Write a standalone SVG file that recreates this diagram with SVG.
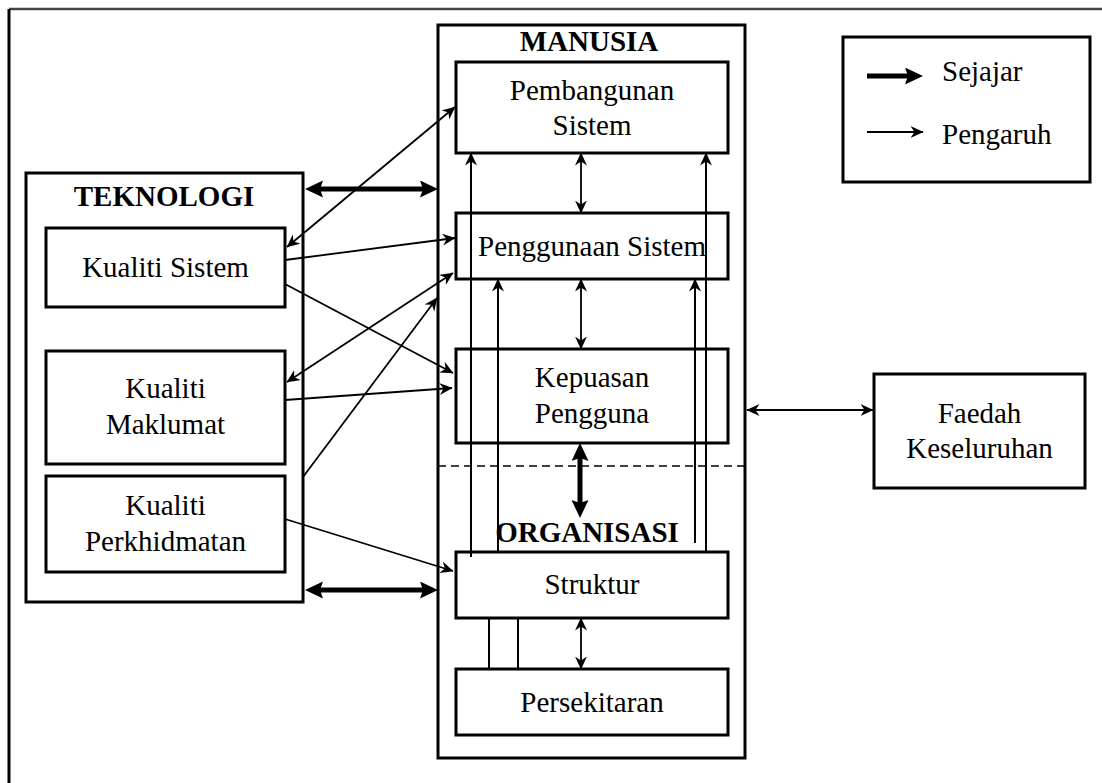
<svg xmlns="http://www.w3.org/2000/svg" width="1102" height="783" viewBox="0 0 1102 783" font-family="Liberation Serif, Times New Roman, Times, serif">
<style>
.box{fill:none;stroke:#000;stroke-width:3}
text{font-family:Liberation Serif,'Times New Roman',Times,serif}
.t{font-size:29px;text-anchor:middle;fill:#000}
.b{font-weight:bold}
.s{text-anchor:start}
.thin{stroke:#000;stroke-width:1.8;fill:none}
.thick{stroke:#000;stroke-width:5;fill:none}
.plain{stroke:#000;stroke-width:2;fill:none}
</style>
<defs>
<marker id="ah" markerUnits="userSpaceOnUse" markerWidth="15" markerHeight="13" refX="12.5" refY="6" orient="auto-start-reverse">
<path d="M0,0 L13,6 L0,12 L4,6 z" fill="#000"/>
</marker>
<marker id="AH" markerUnits="userSpaceOnUse" markerWidth="20" markerHeight="18" refX="8" refY="8.5" orient="auto-start-reverse">
<path d="M0,0 L18,8.5 L0,17 L3,8.5 z" fill="#000"/>
</marker>
</defs>
<rect width="1102" height="783" fill="#fff"/>
<g id="frame">
<line x1="9" y1="9" x2="1102" y2="9" stroke="#444" stroke-width="2.5"/>
<line x1="9" y1="9" x2="9" y2="783" stroke="#000" stroke-width="3"/>
</g>
<g id="manusia">
<rect class="box" x="438" y="25" width="307" height="733" stroke-width="2.5"/>
<text class="t b" x="589" y="51">MANUSIA</text>
<line x1="438" y1="466" x2="745" y2="466" stroke="#000" stroke-width="1.5" stroke-dasharray="8,5"/>
<text class="t b" x="587" y="542">ORGANISASI</text>
</g>
<g id="pembangunan">
<rect class="box" x="456" y="62" width="272" height="91"/>
<text class="t" x="592" y="100">Pembangunan</text>
<text class="t" x="592" y="135">Sistem</text>
</g>
<g id="penggunaan">
<rect class="box" x="456" y="213" width="272" height="66"/>
<text class="t" x="592" y="256">Penggunaan Sistem</text>
</g>
<g id="kepuasan">
<rect class="box" x="456" y="349" width="272" height="94"/>
<text class="t" x="592" y="387">Kepuasan</text>
<text class="t" x="592" y="423">Pengguna</text>
</g>
<g id="struktur">
<rect class="box" x="456" y="552" width="272" height="66"/>
<text class="t" x="592" y="594">Struktur</text>
</g>
<g id="persekitaran">
<rect class="box" x="456" y="669" width="272" height="66"/>
<text class="t" x="592" y="712">Persekitaran</text>
</g>
<g id="teknologi">
<rect class="box" x="26" y="173" width="277" height="429"/>
<text class="t b" x="164" y="206">TEKNOLOGI</text>
</g>
<g id="kualiti-sistem">
<rect class="box" x="46" y="228" width="239" height="79"/>
<text class="t" x="165.5" y="277">Kualiti Sistem</text>
</g>
<g id="kualiti-maklumat">
<rect class="box" x="46" y="351" width="239" height="113"/>
<text class="t" x="165.5" y="398">Kualiti</text>
<text class="t" x="165.5" y="434">Maklumat</text>
</g>
<g id="kualiti-perkhidmatan">
<rect class="box" x="46" y="476" width="239" height="96"/>
<text class="t" x="165.5" y="515">Kualiti</text>
<text class="t" x="165.5" y="551">Perkhidmatan</text>
</g>
<g id="faedah">
<rect class="box" x="874" y="374" width="211" height="114"/>
<text class="t" x="979.5" y="423">Faedah</text>
<text class="t" x="979.5" y="458">Keseluruhan</text>
</g>
<g id="legend">
<rect class="box" x="843" y="37" width="247" height="145"/>
<line class="thick" x1="867" y1="76" x2="913" y2="76" marker-end="url(#AH)"/>
<line class="thin" x1="867" y1="132" x2="923" y2="132" marker-end="url(#ah)"/>
<text class="t s" x="942" y="81">Sejajar</text>
<text class="t s" x="942" y="144">Pengaruh</text>
</g>
<g id="connectors">
<line class="thick" x1="315" y1="189" x2="428" y2="189" marker-start="url(#AH)" marker-end="url(#AH)"/>
<line class="thick" x1="315" y1="590" x2="428" y2="590" marker-start="url(#AH)" marker-end="url(#AH)"/>
<line class="thick" x1="580" y1="453" x2="580" y2="508" marker-start="url(#AH)" marker-end="url(#AH)"/>
<line class="thin" x1="287" y1="247" x2="455" y2="107" marker-start="url(#ah)" marker-end="url(#ah)"/>
<line class="thin" x1="285" y1="260" x2="455" y2="238" marker-end="url(#ah)"/>
<line class="thin" x1="285" y1="284" x2="453" y2="373" marker-end="url(#ah)"/>
<line class="thin" x1="287" y1="382" x2="453" y2="273" marker-start="url(#ah)" marker-end="url(#ah)"/>
<line class="thin" x1="285" y1="400" x2="452" y2="388" marker-end="url(#ah)"/>
<line class="thin" x1="303" y1="477" x2="437" y2="298" marker-end="url(#ah)"/>
<line class="thin" x1="285" y1="519" x2="453" y2="571" marker-end="url(#ah)"/>
<line class="plain" x1="471" y1="557" x2="471" y2="153" marker-end="url(#ah)"/>
<line class="plain" x1="498" y1="552" x2="498" y2="279" marker-end="url(#ah)"/>
<line class="plain" x1="695" y1="543" x2="695" y2="279" marker-end="url(#ah)"/>
<line class="plain" x1="706" y1="552" x2="706" y2="153" marker-end="url(#ah)"/>
<line class="thin" x1="581" y1="153" x2="581" y2="213" marker-start="url(#ah)" marker-end="url(#ah)"/>
<line class="thin" x1="581" y1="279" x2="581" y2="349" marker-start="url(#ah)" marker-end="url(#ah)"/>
<line class="thin" x1="581" y1="618" x2="581" y2="669" marker-start="url(#ah)" marker-end="url(#ah)"/>
<line class="plain" x1="489" y1="618" x2="489" y2="669"/>
<line class="plain" x1="518" y1="618" x2="518" y2="669"/>
<line class="thin" x1="747" y1="410" x2="873" y2="410" marker-start="url(#ah)" marker-end="url(#ah)"/>
</g>
</svg>
